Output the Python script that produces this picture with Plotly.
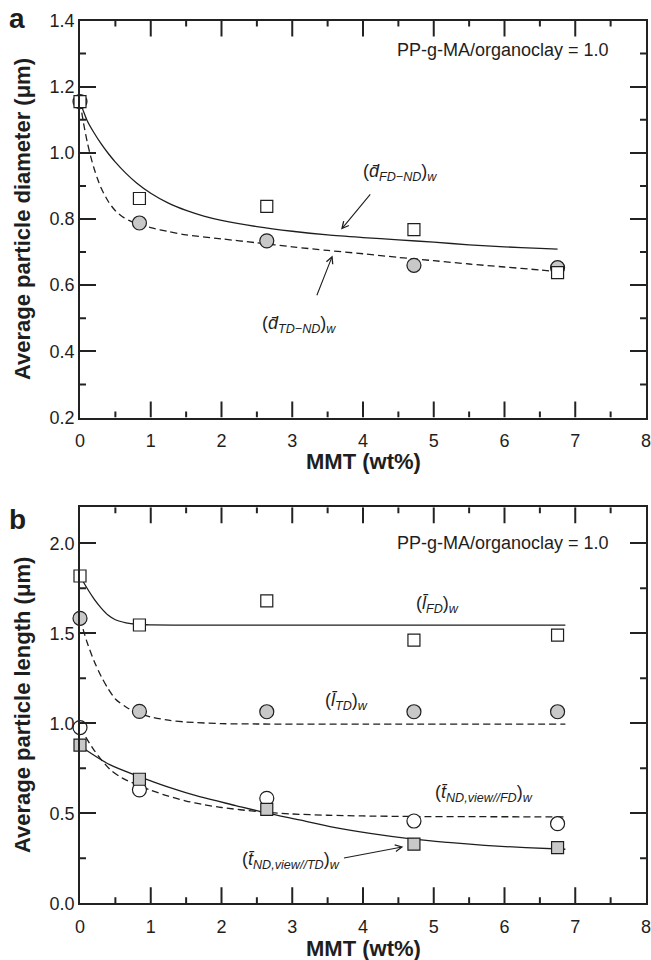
import plotly.graph_objects as go

# ---------------- data ----------------
mmt = [0, 0.84, 2.64, 4.72, 6.75]

# panel a: average particle diameter (um)
d_fd_nd = [1.155, 0.862, 0.838, 0.768, 0.638]
d_td_nd = [1.155, 0.788, 0.734, 0.660, 0.653]

fit_d_fd_x = [0, 0.05, 0.1, 0.2, 0.3, 0.4, 0.5, 0.65, 0.8, 1.0, 1.25, 1.5, 1.75, 2.0, 2.5, 3.0,
              3.5, 4.0, 4.5, 5.0, 5.5, 6.0, 6.5, 6.75]
fit_d_fd_y = [1.155, 1.125, 1.098, 1.060, 1.027, 0.998, 0.972, 0.938, 0.909, 0.878, 0.848, 0.826,
              0.809, 0.796, 0.777, 0.763, 0.752, 0.744, 0.737, 0.730, 0.722, 0.716, 0.711, 0.709]
fit_d_td_x = [0, 0.05, 0.1, 0.15, 0.2, 0.25, 0.3, 0.4, 0.5, 0.6, 0.7, 0.85, 1.0, 1.25, 1.5, 2.0,
              2.5, 3.0, 3.5, 4.0, 4.5, 5.0, 5.5, 6.0, 6.5, 6.75]
fit_d_td_y = [1.155, 1.090, 1.035, 0.990, 0.952, 0.920, 0.893, 0.853, 0.825, 0.807, 0.795, 0.783,
              0.774, 0.762, 0.752, 0.740, 0.728, 0.716, 0.705, 0.695, 0.684, 0.674, 0.664, 0.655,
              0.646, 0.641]

# panel b: average particle length (um)
l_fd = [1.818, 1.546, 1.680, 1.462, 1.490]
l_td = [1.583, 1.066, 1.064, 1.064, 1.064]
t_nd_fd = [0.976, 0.630, 0.583, 0.457, 0.442]
t_nd_td = [0.879, 0.689, 0.522, 0.328, 0.309]

fit_l_fd_x = [0, 0.1, 0.2, 0.3, 0.4, 0.5, 0.65, 0.8, 1.0, 1.5, 3.0, 5.0, 6.86]
fit_l_fd_y = [1.818, 1.750, 1.690, 1.640, 1.600, 1.575, 1.558, 1.550, 1.547, 1.545, 1.545, 1.545, 1.545]
fit_l_td_x = [0, 0.1, 0.2, 0.3, 0.4, 0.5, 0.65, 0.8, 1.0, 1.25, 1.5, 2.0, 2.5, 4.0, 6.86]
fit_l_td_y = [1.583, 1.450, 1.345, 1.260, 1.190, 1.135, 1.090, 1.060, 1.035, 1.017, 1.007, 0.998,
              0.996, 0.995, 0.995]
fit_t_fd_x = [0, 0.2, 0.42, 0.6, 0.83, 1.0, 1.25, 1.5, 1.75, 2.0, 2.5, 3.0, 3.5, 4.0, 4.72, 5.5, 6.86]
fit_t_fd_y = [0.976, 0.850, 0.745, 0.695, 0.655, 0.628, 0.595, 0.568, 0.548, 0.532, 0.510, 0.496,
              0.489, 0.485, 0.482, 0.481, 0.480]
fit_t_td_x = [0, 0.42, 0.83, 1.25, 1.69, 2.2, 2.6, 3.1, 3.59, 4.1, 4.71, 5.2, 5.72, 6.3, 6.86]
fit_t_td_y = [0.874, 0.770, 0.705, 0.645, 0.592, 0.543, 0.505, 0.463, 0.422, 0.388, 0.356, 0.338,
              0.322, 0.309, 0.300]

# ticks
x_ticks = [0, 1, 2, 3, 4, 5, 6, 7, 8]
x_minor = [0.5, 1.5, 2.5, 3.5, 4.5, 5.5, 6.5, 7.5]
x_range = [0, 8]
ya_range = [0.2, 1.4]
ya_minor = [0.3, 0.5, 0.7, 0.9, 1.1, 1.3]
yb_range = [0, 2.2]
yb_minor = [0.25, 0.75, 1.25, 1.75]

# ---------------- style ----------------
INK = "#1e1e1e"
AXC = "#222222"
GREY = "#c8c8c8"
FONT = "Liberation Sans, Arial, sans-serif"
DASH = "7px,4px"
MAJ, MIN = 16, 6          # tick lengths in px
W, H = 651, 960
ML, MR = 80, 5
YA = [0.5651, 0.9786]
YB = [0.0591, 0.4716]

fig = go.Figure()


def curve(x, y, dash, xa, ya):
    fig.add_trace(go.Scatter(x=x, y=y, mode="lines", xaxis=xa, yaxis=ya,
                             line=dict(color=INK, width=1.3, dash=dash, shape="spline", smoothing=0.8),
                             cliponaxis=False, hoverinfo="skip"))


def pts(y, symbol, fill, xa, ya, size):
    fig.add_trace(go.Scatter(x=mmt, y=y, mode="markers", xaxis=xa, yaxis=ya,
                             marker=dict(symbol=symbol, size=size, color=fill,
                                         line=dict(color=INK, width=1.2)),
                             cliponaxis=False))


# tick marks (inside, on all four sides) built from the tick arrays
def tick_marks(xa, ya, yrange, ydom, y_minor):
    px_per_x = (W - ML - MR) / (x_range[1] - x_range[0])
    px_per_y = (ydom[1] - ydom[0]) * H / (yrange[1] - yrange[0])
    xs, ys = [], []
    for vals, ln in ((x_ticks[1:-1], MAJ), (x_minor, MIN)):
        d = ln / px_per_y
        for v in vals:
            xs += [v, v, None, v, v, None]
            ys += [yrange[0], yrange[0] + d, None, yrange[1], yrange[1] - d, None]
    d = MIN / px_per_x
    for v in y_minor:
        xs += [x_range[0], x_range[0] + d, None, x_range[1], x_range[1] - d, None]
        ys += [v, v, None, v, v, None]
    fig.add_trace(go.Scatter(x=xs, y=ys, mode="lines", xaxis=xa, yaxis=ya,
                             line=dict(color=AXC, width=2), connectgaps=False,
                             cliponaxis=False, hoverinfo="skip"))


# panel a
curve(fit_d_fd_x, fit_d_fd_y, "solid", "x", "y")
curve(fit_d_td_x, fit_d_td_y, DASH, "x", "y")
pts(d_td_nd, "circle", GREY, "x", "y", 14)
pts(d_fd_nd, "square", "white", "x", "y", 12)

# panel b
curve(fit_l_fd_x, fit_l_fd_y, "solid", "x2", "y2")
curve(fit_l_td_x, fit_l_td_y, DASH, "x2", "y2")
curve(fit_t_fd_x, fit_t_fd_y, DASH, "x2", "y2")
curve(fit_t_td_x, fit_t_td_y, "solid", "x2", "y2")
pts(l_td, "circle", GREY, "x2", "y2", 14)
pts(t_nd_fd, "circle", "white", "x2", "y2", 14)
pts(t_nd_td, "square", GREY, "x2", "y2", 12)
pts(l_fd, "square", "white", "x2", "y2", 12)

tick_marks("x", "y", ya_range, YA, ya_minor)
tick_marks("x2", "y2", yb_range, YB, yb_minor)

base = dict(showline=True, linecolor=AXC, linewidth=1.8, showgrid=False, zeroline=False,
            ticklabeloverflow="allow", tickfont=dict(size=18, color=INK, family=FONT))
ybase = dict(ticks="inside", ticklen=MAJ, tickwidth=2, tickcolor=AXC, mirror="ticks", **base)
xbase = dict(ticks="", mirror=True, ticklabelstandoff=6, **base)

fig.update_layout(
    width=W, height=H,
    margin=dict(l=ML, r=MR, t=0, b=0, autoexpand=False),
    plot_bgcolor="white", paper_bgcolor="white", showlegend=False,
    font=dict(family=FONT, size=18, color=INK),
    xaxis=dict(anchor="y", domain=[0, 1], range=x_range, tickvals=x_ticks, **xbase),
    yaxis=dict(anchor="x", domain=YA, range=ya_range, dtick=0.2, tickformat=".1f", **ybase),
    xaxis2=dict(anchor="y2", domain=[0, 1], range=x_range, tickvals=x_ticks, **xbase),
    yaxis2=dict(anchor="x2", domain=YB, range=yb_range, dtick=0.5, tickformat=".1f", **ybase),
)

ann = []
TITLE = dict(family=FONT, size=22, color=INK)
ann.append(dict(text="<b>MMT (wt%)</b>", xref="paper", yref="paper", x=0.5, y=1 - 462 / 960,
                showarrow=False, font=TITLE, xanchor="center", yanchor="middle"))
ann.append(dict(text="<b>MMT (wt%)</b>", xref="paper", yref="paper", x=0.5, y=1 - 948 / 960,
                showarrow=False, font=TITLE, xanchor="center", yanchor="middle"))
ann.append(dict(text="<b>Average particle diameter (\u03bcm)</b>", xref="paper", yref="paper",
                x=(22 - 80) / 566, y=1 - 219 / 960, textangle=-90, showarrow=False, font=TITLE,
                xanchor="center", yanchor="middle"))
ann.append(dict(text="<b>Average particle length (\u03bcm)</b>", xref="paper", yref="paper",
                x=(22 - 80) / 566, y=1 - 705 / 960, textangle=-90, showarrow=False, font=TITLE,
                xanchor="center", yanchor="middle"))
ann.append(dict(text="<b>a</b>", xref="paper", yref="paper", x=(17 - 80) / 566, y=1 - 18 / 960,
                showarrow=False, font=dict(family=FONT, size=28, color=INK), xanchor="center", yanchor="middle"))
ann.append(dict(text="<b>b</b>", xref="paper", yref="paper", x=(17 - 80) / 566, y=1 - 519 / 960,
                showarrow=False, font=dict(family=FONT, size=28, color=INK), xanchor="center", yanchor="middle"))
ann.append(dict(text="PP-g-MA/organoclay = 1.0", xref="x", yref="y", x=7.5, y=1.31,
                showarrow=False, font=dict(family=FONT, size=18, color=INK), xanchor="right", yanchor="middle"))
ann.append(dict(text="PP-g-MA/organoclay = 1.0", xref="x2", yref="y2", x=7.5, y=2.0,
                showarrow=False, font=dict(family=FONT, size=18, color=INK), xanchor="right", yanchor="middle"))

LBL = dict(family=FONT, size=18, color=INK)


def label(txt, x, y, xr, yr):
    ann.append(dict(text=txt, xref=xr, yref=yr, x=x, y=y, showarrow=False, font=LBL,
                    xanchor="center", yanchor="middle"))


def arrow(x, y, ax, ay, xr, yr):
    ann.append(dict(text="", xref=xr, yref=yr, x=x, y=y, ax=ax, ay=ay, axref=xr, ayref=yr,
                    showarrow=True, arrowhead=5, arrowsize=1.2, arrowwidth=1.1, arrowcolor=INK,
                    standoff=0, startstandoff=0))


label("(<i>d\u0304</i><sub><i>FD\u2212ND</i></sub>)<sub><i>w</i></sub>", 4.52, 0.94, "x", "y")
arrow(3.69, 0.768, 4.12, 0.879, "x", "y")
label("(<i>d\u0304</i><sub><i>TD\u2212ND</i></sub>)<sub><i>w</i></sub>", 3.1, 0.48, "x", "y")
arrow(3.57, 0.69, 3.34, 0.565, "x", "y")

label("(<i>l\u0304</i><sub><i>FD</i></sub>)<sub><i>w</i></sub>", 5.06, 1.66, "x2", "y2")
label("(<i>l\u0304</i><sub><i>TD</i></sub>)<sub><i>w</i></sub>", 3.76, 1.12, "x2", "y2")
label("(<i>t\u0304</i><sub><i>ND,view//FD</i></sub>)<sub><i>w</i></sub>", 5.71, 0.61, "x2", "y2")
label("(<i>t\u0304</i><sub><i>ND,view//TD</i></sub>)<sub><i>w</i></sub>", 2.98, 0.24, "x2", "y2")
arrow(4.57, 0.314, 3.71, 0.25, "x2", "y2")

fig.update_layout(annotations=ann)

fig.write_html("out.html")
